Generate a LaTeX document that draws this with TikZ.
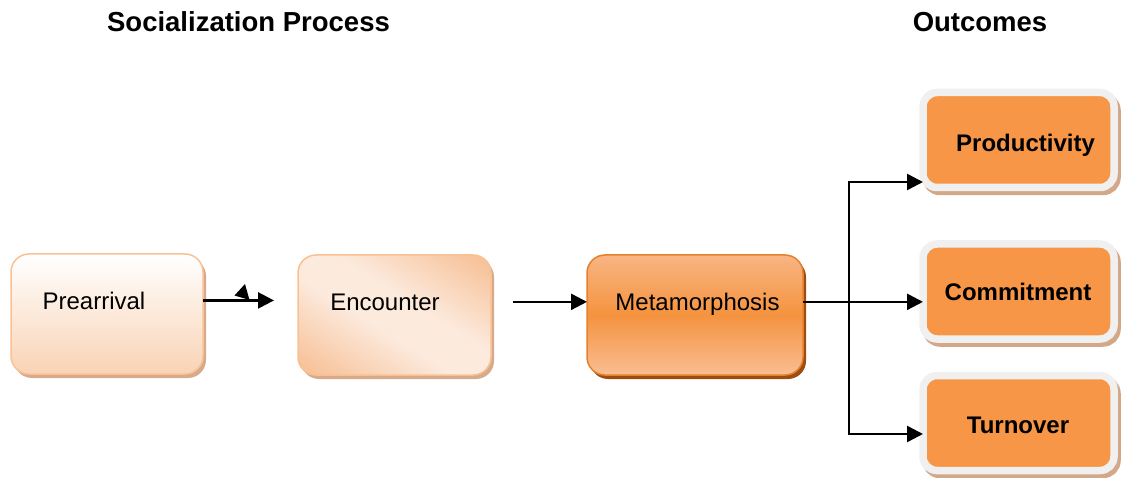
\documentclass[tikz,border=0pt]{standalone}
\usepackage{fontspec}
\setmainfont{Liberation Sans}
\usetikzlibrary{arrows.meta,shadows,calc}

\definecolor{prebot}{HTML}{F9D3B5}
\definecolor{preborder}{HTML}{F8C296}
\definecolor{preshadow}{HTML}{D6AA8A}
\definecolor{encdark}{HTML}{F7C39B}
\definecolor{enclight}{HTML}{FCEADD}
\definecolor{encborder}{HTML}{F8C193}
\definecolor{metatop}{HTML}{F8B584}
\definecolor{metamid}{HTML}{F5933F}
\definecolor{metabot}{HTML}{F9BE93}
\definecolor{metaborder}{HTML}{E5802C}
\definecolor{metashadow}{HTML}{9E4D10}
\definecolor{outorange}{HTML}{F79646}
\definecolor{framegray}{HTML}{F0F0F0}
\definecolor{outshadow}{HTML}{D3A889}

% diagonal two-tone sweep for the Encounter stage
\pgfdeclarehorizontalshading{encsweep}{100bp}{%
  color(0bp)=(encdark); color(31bp)=(encdark); color(46bp)=(enclight);
  color(54bp)=(enclight); color(69bp)=(encdark); color(100bp)=(encdark)}

\tikzset{
  stagebox/.style={rounded corners=18pt, line width=1.5pt, inner sep=0pt,
    outer sep=0pt, minimum height=120pt},
  outbox/.style={draw=framegray, line width=7.5pt, fill=outorange,
    rounded corners=14pt, minimum width=191pt, minimum height=95pt,
    inner sep=0pt, outer sep=0pt,
    general shadow={draw=outshadow, fill=outshadow, line width=7.5pt,
      shadow xshift=3pt, shadow yshift=-4pt}},
  lbl/.style={inner sep=0pt, font=\fontsize{24}{28}\selectfont, anchor=base},
  boldlbl/.style={lbl, font=\fontsize{24}{28}\selectfont\bfseries},
  heading/.style={inner sep=0pt, anchor=base,
    font=\fontsize{27.5}{32}\selectfont\bfseries},
  conn/.style={line width=2.4pt, -{Triangle[length=16pt,width=16pt]}},
}

\begin{document}
\begin{tikzpicture}[x=1pt,y=-1pt]
\useasboundingbox (0,0) rectangle (1121,478);

% headings
\node[heading] (hsoc) at (248.5,31.5) {Socialization Process};
\node[heading] (hout) at (980,31.5) {Outcomes};

% socialization stages
\node[stagebox, draw=preborder, minimum width=192pt,
  top color=white, bottom color=prebot,
  general shadow={fill=preshadow, shadow xshift=3pt, shadow yshift=-4pt}]
  (pre) at (107,314) {};
\node[stagebox, draw=encborder, minimum width=193pt, fill=enclight,
  path picture={\shade[shading=encsweep, shading angle=58]
    ($(path picture bounding box.center)+(-120,-120)$) rectangle
    ($(path picture bounding box.center)+(120,120)$);},
  general shadow={fill=preshadow, shadow xshift=3pt, shadow yshift=-4pt}]
  (enc) at (394.5,315) {};
\node[stagebox, draw=metaborder, minimum width=216pt,
  top color=metatop, bottom color=metabot, middle color=metamid,
  general shadow={fill=metashadow, shadow xshift=3pt, shadow yshift=-4pt}]
  (meta) at (695,315) {};

\node[lbl] (pretxt) at (94,309) {Prearrival};
\node[lbl] (enctxt) at (385,310) {Encounter};
\node[lbl] (metatxt) at (697.5,310) {Metamorphosis};

% outcomes
\node[outbox] (prod) at (1018.5,140) {};
\node[outbox] (comm) at (1018.5,291.5) {};
\node[outbox] (turn) at (1018.5,423) {};

\node[boldlbl] (prodtxt) at (1025.5,152) {Productivity};
\node[boldlbl] (commtxt) at (1018,300) {Commitment};
\node[boldlbl] (turntxt) at (1018,433) {Turnover};

% connectors
\draw[conn, shorten >=24pt] (pre.east |- pretxt) -- (enc.west |- pretxt);
\fill (234.5,295.5) -- (245,284) -- (249.5,300) -- cycle;
\draw[conn, shorten <=22pt] (enc.east |- enctxt) -- (meta.west |- enctxt);
\draw[conn] (meta.east |- enctxt) -- (comm.west |- enctxt);
\coordinate (split) at ([xshift=46pt]meta.east |- enctxt);
\draw[conn] (split) |- ($(prod.west)+(0,42)$);
\draw[conn] (split) |- ($(turn.west)+(0,11)$);
\end{tikzpicture}
\end{document}
